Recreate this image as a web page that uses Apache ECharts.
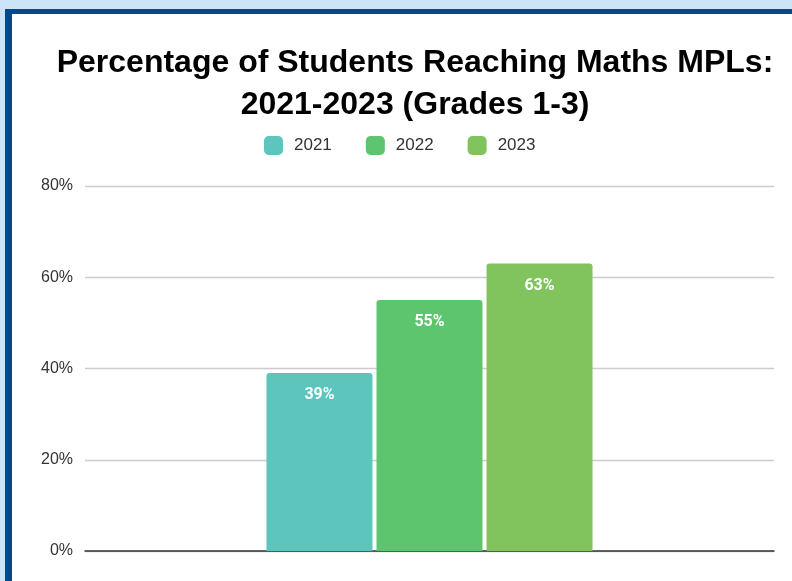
<!DOCTYPE html>
<html>
<head>
<meta charset="utf-8">
<script src="https://cdn.jsdelivr.net/npm/echarts@6/dist/echarts.min.js"></script>
<style>
  html, body { margin:0; padding:0; width:792px; height:581px; overflow:hidden; background:#cbe4f8; }
  #card { position:absolute; left:5px; top:9px; width:800px; height:600px; background:#ffffff;
          border-left:7px solid #004a8b; border-top:5px solid #004a8b; }
  #chart { position:absolute; left:0; top:0; width:792px; height:581px; }
</style>
</head>
<body>
<div id="card"></div>
<div id="chart"></div>
<script>
const categories = ['Grades 1-3'];
const seriesNames = ['2021', '2022', '2023'];
const values2021 = [39];
const values2022 = [55];
const values2023 = [63];
const colors = ['#5dc5bb', '#5cc56e', '#81c45d'];
const yTicks = [0, 20, 40, 60, 80];

const chart = echarts.init(document.getElementById('chart'), null, {renderer: 'canvas'});
const seriesValues = [values2021, values2022, values2023];

const option = {
  animation: false,
  backgroundColor: 'transparent',
  title: {
    text: 'Percentage of Students Reaching Maths MPLs:\n2021-2023 (Grades 1-3)',
    left: 410, top: 37, textAlign: 'center',
    textStyle: { fontFamily: 'Liberation Sans', fontWeight: 'bold', fontSize: 32, lineHeight: 42, color: '#000' }
  },
  legend: {
    data: seriesNames,
    top: 131, left: 259,
    itemWidth: 19, itemHeight: 19, itemGap: 34,
    icon: 'roundRect',
    textStyle: { fontFamily: 'Liberation Sans', fontSize: 17, color: '#333', padding: [0,0,0,6] }
  },
  grid: { left: 85, right: 18, top: 186, bottom: 30, containLabel: false },
  xAxis: {
    type: 'category', data: categories,
    axisLine: { lineStyle: { color: '#333', width: 1.5 } },
    axisTick: { show: false }, axisLabel: { show: false }
  },
  yAxis: {
    type: 'value', min: 0, max: 80, interval: 20,
    axisLabel: { formatter: v => yTicks.includes(v) ? v + '%' : '', fontFamily: 'Liberation Sans', fontSize: 16, color: '#333', margin: 12 },
    axisLine: { show: false }, axisTick: { show: false },
    splitLine: { lineStyle: { color: '#cccccc', width: 1.3 } }
  },
  series: seriesNames.map((name, i) => ({
    name, type: 'bar', data: seriesValues[i],
    barWidth: 106, barGap: '3.8%',
    itemStyle: { color: colors[i], borderRadius: [3,3,0,0] },
    label: { show: true, position: 'insideTop', distance: 14, formatter: p => p.value + '%',
             color: '#fff', fontFamily: 'Roboto', fontWeight: 'bold', fontSize: 16 }
  }))
};
chart.setOption(option);
</script>
</body>
</html>
